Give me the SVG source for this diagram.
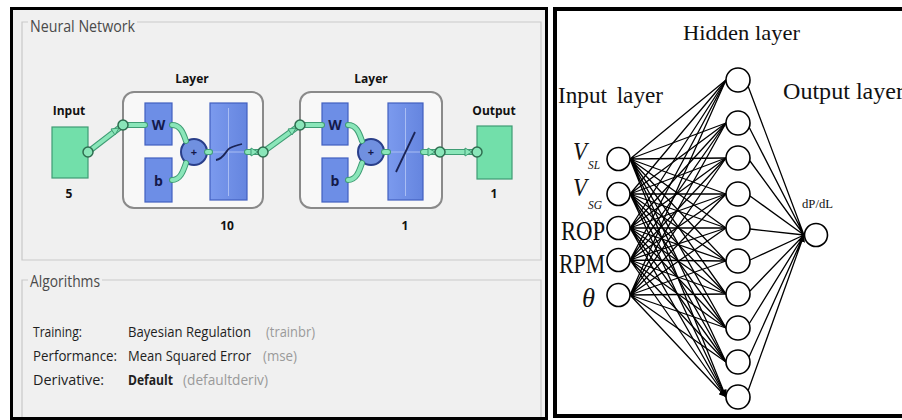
<svg xmlns="http://www.w3.org/2000/svg" width="902" height="420" viewBox="0 0 902 420">
<defs>
<style>
.lbl{font-family:"Open Sans","Noto Sans",sans-serif;font-weight:bold;font-size:12px;fill:#111}
.ttl{font-family:"Open Sans","Noto Sans",sans-serif;font-size:16px;fill:#4a4a4a}
.alg{font-family:"Open Sans","Noto Sans",sans-serif;font-size:14.5px;fill:#1e1e1e}
.par{font-family:"Open Sans","Noto Sans",sans-serif;font-size:14.5px;fill:#9a9a9a}
.grp{fill:none;stroke:#c9c9c9;stroke-width:1.2}
.layer{fill:#f8f8f8;stroke:#8a8a8a;stroke-width:2}
.io{fill:#72dfaa;stroke:#3f9c74;stroke-width:1.2}
.blue{fill:#6d8ee6;stroke:#4260c0;stroke-width:1.2}
.wb{font-family:"Open Sans","Noto Sans",sans-serif;font-weight:bold;font-size:14px;fill:#141a4a}
.gout{fill:none;stroke:#3f9c74;stroke-width:6;stroke-linecap:round}
.gin{fill:none;stroke:#8ae6b9;stroke-width:4;stroke-linecap:round}
.gdot{fill:#8ae6b9;stroke:#2f6e50;stroke-width:1.5}
.garr{fill:#8ae6b9;stroke:#3f9c74;stroke-width:1}
.tm{font-family:"Liberation Serif","Times New Roman",serif;fill:#111}
.edge{stroke:#000;stroke-width:1.3;fill:none}
.neuron{fill:#fff;stroke:#000;stroke-width:1.6}
</style>
<linearGradient id="bg" x1="0" y1="0" x2="1" y2="0">
<stop offset="0" stop-color="#7b9aee"/>
<stop offset="1" stop-color="#6585df"/>
</linearGradient>
<marker id="ah" viewBox="0 0 10 10" refX="10" refY="5" markerWidth="7" markerHeight="7" markerUnits="userSpaceOnUse" orient="auto">
<path d="M0,0 L10,5 L0,10 z" fill="#000"/>
</marker>
<path id="gp" d="M88,152 L123,125 L145,125 M172,125 C180,125 183,132 186,141 M172,180 C180,180 183,172 186,163 M207,152 L210,152 M247,152 L263,152 L300,125 L322,125 M348,125 C356,125 359,132 362,141 M348,180 C356,180 359,172 362,163 M384,152 L388,152 M423,152 L477,152"/>
</defs>

<rect x="0" y="0" width="902" height="420" fill="#fff"/>

<!-- Left panel -->
<g id="left-panel">
<rect x="11.5" y="8.5" width="535" height="410" fill="#f0f0f0" stroke="#000" stroke-width="3"/>
<path class="grp" d="M28,22 L22,22 L22,260 L541,260 L541,22 L137,22"/>
<text class="ttl" x="30" y="32" textLength="105" lengthAdjust="spacingAndGlyphs">Neural Network</text>
<path class="grp" d="M28,280 L22,280 L22,417 M541,417 L541,280 L102,280"/>
<text class="ttl" x="30" y="287" textLength="70" lengthAdjust="spacingAndGlyphs">Algorithms</text>
</g>

<g id="input-node">
<text class="lbl" x="69" y="115" text-anchor="middle">Input</text>
<rect class="io" x="52" y="127" width="36" height="51"/>
<text class="lbl" x="69" y="198" text-anchor="middle">5</text>
</g>

<g id="layer1">
<text class="lbl" x="192" y="83" text-anchor="middle">Layer</text>
<rect class="layer" x="123" y="92" width="140" height="116" rx="11"/>
<rect class="blue" x="145" y="103" width="27" height="42"/>
<text class="wb" x="158.5" y="130" text-anchor="middle">W</text>
<rect class="blue" x="145" y="158" width="27" height="44"/>
<text class="wb" x="158.5" y="186" text-anchor="middle">b</text>
<circle cx="194" cy="152" r="13" fill="#7090e0" stroke="#2a3f8a" stroke-width="2"/>
<text x="194" y="156" text-anchor="middle" font-family="Open Sans, sans-serif" font-size="11" font-weight="bold" fill="#141a4a">+</text>
<rect x="210" y="103" width="37" height="97" fill="url(#bg)" stroke="#4260c0" stroke-width="1.2"/>
<path d="M213,152 L244,152 M228.5,108 L228.5,196" stroke="#a9bdf3" stroke-width="1" fill="none"/>
<path d="M216,160 C224,159 226,150 230,148 C234,146 238,145 242,144" stroke="#1b2455" stroke-width="1.8" fill="none"/>
<text class="lbl" x="227" y="230" text-anchor="middle">10</text>
</g>

<g id="layer2">
<text class="lbl" x="371" y="83" text-anchor="middle">Layer</text>
<rect class="layer" x="300" y="92" width="142" height="116" rx="11"/>
<rect class="blue" x="322" y="103" width="26" height="42"/>
<text class="wb" x="335" y="130" text-anchor="middle">W</text>
<rect class="blue" x="322" y="158" width="26" height="44"/>
<text class="wb" x="335" y="186" text-anchor="middle">b</text>
<circle cx="371" cy="152" r="13" fill="#7090e0" stroke="#2a3f8a" stroke-width="2"/>
<text x="371" y="156" text-anchor="middle" font-family="Open Sans, sans-serif" font-size="11" font-weight="bold" fill="#141a4a">+</text>
<rect x="388" y="103" width="35" height="97" fill="url(#bg)" stroke="#4260c0" stroke-width="1.2"/>
<path d="M391,152 L420,152 M405.5,108 L405.5,196" stroke="#a9bdf3" stroke-width="1" fill="none"/>
<path d="M396,172 L415,132" stroke="#1b2455" stroke-width="1.8" fill="none"/>
<text class="lbl" x="405" y="230" text-anchor="middle">1</text>
</g>

<g id="output-node">
<text class="lbl" x="494" y="115" text-anchor="middle">Output</text>
<rect class="io" x="477" y="126" width="35" height="53"/>
<text class="lbl" x="494" y="198" text-anchor="middle">1</text>
</g>

<g id="nn-connectors">
<use href="#gp" class="gout"/>
<use href="#gp" class="gin"/>
<path class="garr" d="M119,128 L111,129 L115,135 z"/>
<path class="garr" d="M258,152 L251,148 L251,156 z"/>
<path class="garr" d="M296,128 L288,129 L292,135 z"/>
<path class="garr" d="M435,152 L428,148 L428,156 z"/>
<path class="garr" d="M472,152 L465,148 L465,156 z"/>
<circle class="gdot" cx="88" cy="152" r="5"/>
<circle class="gdot" cx="123" cy="125" r="5"/>
<circle class="gdot" cx="263" cy="152" r="5"/>
<circle class="gdot" cx="300" cy="125" r="5"/>
<circle class="gdot" cx="440" cy="152" r="5"/>
<circle class="gdot" cx="477" cy="152" r="5"/>
</g>

<g id="algorithms">
<text class="alg" x="33" y="337" textLength="49" lengthAdjust="spacingAndGlyphs">Training:</text>
<text class="alg" x="128" y="337" textLength="123" lengthAdjust="spacingAndGlyphs">Bayesian Regulation</text>
<text class="par" x="266" y="337" textLength="49" lengthAdjust="spacingAndGlyphs">(trainbr)</text>
<text class="alg" x="33" y="361" textLength="84" lengthAdjust="spacingAndGlyphs">Performance:</text>
<text class="alg" x="128" y="361" textLength="123" lengthAdjust="spacingAndGlyphs">Mean Squared Error</text>
<text class="par" x="263" y="361" textLength="34" lengthAdjust="spacingAndGlyphs">(mse)</text>
<text class="alg" x="33" y="385" textLength="71" lengthAdjust="spacingAndGlyphs">Derivative:</text>
<text class="alg" x="128" y="385" textLength="45" lengthAdjust="spacingAndGlyphs" font-weight="bold">Default</text>
<text class="par" x="183" y="385" textLength="85" lengthAdjust="spacingAndGlyphs">(defaultderiv)</text>
</g>

<!-- Right panel -->
<g id="right-panel">
<rect x="555" y="9" width="360" height="407" fill="#fff" stroke="#000" stroke-width="4"/>
<text class="tm" x="683" y="40" font-size="22" textLength="117" lengthAdjust="spacingAndGlyphs">Hidden layer</text>
<text class="tm" x="558" y="103" font-size="24" textLength="105" lengthAdjust="spacingAndGlyphs" word-spacing="4">Input layer</text>
<text class="tm" x="783" y="99" font-size="24" textLength="121" lengthAdjust="spacingAndGlyphs">Output layer</text>
<text class="tm" x="802" y="208" font-size="13" textLength="31" lengthAdjust="spacingAndGlyphs">dP/dL</text>
<text class="tm" x="573" y="160" font-size="26" font-style="italic" textLength="14" lengthAdjust="spacingAndGlyphs">V</text>
<text class="tm" x="588" y="169" font-size="12" font-style="italic" textLength="12" lengthAdjust="spacingAndGlyphs">SL</text>
<text class="tm" x="573" y="196" font-size="26" font-style="italic" textLength="14" lengthAdjust="spacingAndGlyphs">V</text>
<text class="tm" x="588" y="209" font-size="12" font-style="italic" textLength="14" lengthAdjust="spacingAndGlyphs">SG</text>
<text class="tm" x="561" y="240" font-size="28" textLength="44" lengthAdjust="spacingAndGlyphs">ROP</text>
<text class="tm" x="559" y="273" font-size="28" textLength="46" lengthAdjust="spacingAndGlyphs">RPM</text>
<text class="tm" x="582" y="307" font-size="28" font-style="italic" textLength="13" lengthAdjust="spacingAndGlyphs">θ</text>
</g>

<g id="mlp-connectors">
<path class="edge" marker-end="url(#ah)" d="M630,159 L726,80 M630,159 L726,123 M630,159 L726,158 M630,159 L726,194 M630,159 L726,228 M630,159 L726,261 M630,159 L726,294 M630,159 L726,328 M630,159 L726,362 M630,159 L726,397"/>
<path class="edge" marker-end="url(#ah)" d="M630,194 L726,80 M630,194 L726,123 M630,194 L726,158 M630,194 L726,194 M630,194 L726,228 M630,194 L726,261 M630,194 L726,294 M630,194 L726,328 M630,194 L726,362 M630,194 L726,397"/>
<path class="edge" marker-end="url(#ah)" d="M630,228 L726,80 M630,228 L726,123 M630,228 L726,158 M630,228 L726,194 M630,228 L726,228 M630,228 L726,261 M630,228 L726,294 M630,228 L726,328 M630,228 L726,362 M630,228 L726,397"/>
<path class="edge" marker-end="url(#ah)" d="M630,260 L726,80 M630,260 L726,123 M630,260 L726,158 M630,260 L726,194 M630,260 L726,228 M630,260 L726,261 M630,260 L726,294 M630,260 L726,328 M630,260 L726,362 M630,260 L726,397"/>
<path class="edge" marker-end="url(#ah)" d="M630,295 L726,80 M630,295 L726,123 M630,295 L726,158 M630,295 L726,194 M630,295 L726,228 M630,295 L726,261 M630,295 L726,294 M630,295 L726,328 M630,295 L726,362 M630,295 L726,397"/>
<path class="edge" marker-end="url(#ah)" d="M748,86 L804,235 M749,127 L804,235 M750,161 L804,235 M750,196 L804,235 M750,229 L804,235 M750,260 L804,235 M750,291 L804,235 M749,324 L804,235 M749,357 L804,235 M748,391 L804,235"/>
</g>

<g id="input-neurons">
<circle class="neuron" cx="618.5" cy="159" r="11.5"/>
<circle class="neuron" cx="618.5" cy="194" r="11.5"/>
<circle class="neuron" cx="618.5" cy="228" r="11.5"/>
<circle class="neuron" cx="618.5" cy="260" r="11.5"/>
<circle class="neuron" cx="618.5" cy="295" r="11.5"/>
</g>
<g id="hidden-neurons">
<circle class="neuron" cx="738" cy="80" r="12"/>
<circle class="neuron" cx="738" cy="123" r="12"/>
<circle class="neuron" cx="738" cy="158" r="12"/>
<circle class="neuron" cx="738" cy="194" r="12"/>
<circle class="neuron" cx="738" cy="228" r="12"/>
<circle class="neuron" cx="738" cy="261" r="12"/>
<circle class="neuron" cx="738" cy="294" r="12"/>
<circle class="neuron" cx="738" cy="328" r="12"/>
<circle class="neuron" cx="738" cy="362" r="12"/>
<circle class="neuron" cx="738" cy="397" r="12"/>
</g>
<g id="output-neuron">
<circle class="neuron" cx="816" cy="235" r="11.5"/>
</g>
</svg>
